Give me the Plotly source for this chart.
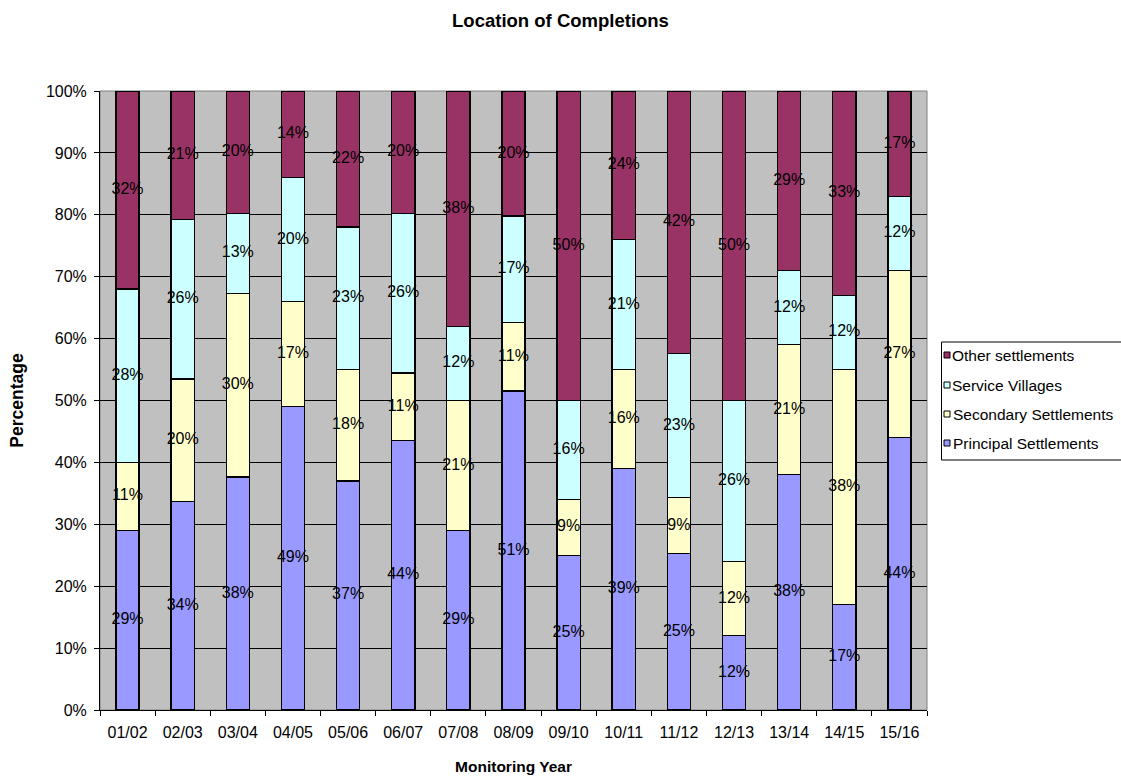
import plotly.graph_objects as go

years = ["01/02", "02/03", "03/04", "04/05", "05/06", "06/07", "07/08", "08/09",
         "09/10", "10/11", "11/12", "12/13", "13/14", "14/15", "15/16"]

principal = [29, 34, 38, 49, 37, 44, 29, 51, 25, 39, 25, 12, 38, 17, 44]
secondary = [11, 20, 30, 17, 18, 11, 21, 11, 9, 16, 9, 12, 21, 38, 27]
service = [28, 26, 13, 20, 23, 26, 12, 17, 16, 21, 23, 26, 12, 12, 12]
other = [32, 21, 20, 14, 22, 20, 38, 20, 50, 24, 42, 50, 29, 33, 17]

series = [
    ("Principal Settlements", principal, "#9999FF"),
    ("Secondary Settlements", secondary, "#FFFFCC"),
    ("Service Villages", service, "#CCFFFF"),
    ("Other settlements", other, "#993366"),
]

FONT = "Arial, 'Liberation Sans', sans-serif"
W, H = 1121, 778
ML, MR, MT, MB = 100, 194, 91, 68
PW, PH = W - ML - MR, H - MT - MB


def px_x(x):
    return (x - ML) / PW


def px_y(y):
    return (H - MB - y) / PH


fig = go.Figure()

totals = [sum(v) for v in zip(principal, secondary, service, other)]
base = [0.0] * len(years)
label_x, label_y, label_t = [], [], []
for name, vals, color in series:
    fig.add_trace(go.Bar(
        x=years, y=vals, name=name, showlegend=False,
        marker=dict(color=color, line=dict(color="black", width=1.4)),
    ))
    # centre of each stacked segment (in percent of the bar total)
    for i, v in enumerate(vals):
        share = v / totals[i] * 100
        label_x.append(years[i])
        label_y.append(base[i] + share / 2)
        label_t.append(f"{v}%")
        base[i] += share

fig.add_trace(go.Scatter(
    x=label_x, y=label_y, text=label_t, mode="text",
    textfont=dict(family=FONT, size=16, color="black"),
    showlegend=False, hoverinfo="skip", cliponaxis=False,
))

# legend box at the right, top entry = last series
shapes = [
    dict(type="rect", xref="paper", yref="paper", x0=0, x1=1, y0=0, y1=1,
         line=dict(color="#808080", width=1), layer="below"),
    dict(type="rect", xref="paper", yref="paper",
         x0=px_x(941.5), x1=px_x(1130), y0=px_y(460), y1=px_y(342),
         line=dict(color="black", width=1), fillcolor="white", layer="above"),
]
annotations = []
row_y = [355, 385, 414, 443]
for (name, _, color), ry in zip(reversed(series), row_y):
    shapes.append(dict(type="rect", xref="paper", yref="paper",
                       x0=px_x(944), x1=px_x(950), y0=px_y(ry + 3), y1=px_y(ry - 3),
                       line=dict(color="black", width=1), fillcolor=color,
                       layer="above"))
    annotations.append(dict(text=name, xref="paper", yref="paper",
                            x=px_x(950.5), y=px_y(ry), xanchor="left",
                            yanchor="middle", showarrow=False,
                            font=dict(family=FONT, size=15.5, color="black")))

fig.update_layout(
    barmode="stack",
    barnorm="percent",
    bargap=0.58,
    width=W, height=H,
    margin=dict(l=ML, r=MR, t=MT, b=MB, autoexpand=False),
    paper_bgcolor="white",
    plot_bgcolor="#C0C0C0",
    font=dict(family=FONT, size=16, color="black"),
    title=dict(text="<b>Location of Completions</b>", x=0.5, xref="container",
               y=0.974, yref="container", yanchor="middle",
               font=dict(family=FONT, size=18.5, color="black")),
    showlegend=False,
    shapes=shapes,
    annotations=annotations,
)

fig.update_xaxes(
    range=[-0.5, len(years) - 0.5],
    showgrid=False, showline=True, linecolor="black", linewidth=1,
    ticks="outside", tickson="boundaries", ticklen=5, tickcolor="black",
    ticklabelstandoff=8,
    tickfont=dict(family=FONT, size=16, color="black"),
    title=dict(text="<b>Monitoring Year</b>", standoff=20,
               font=dict(family=FONT, size=15.5, color="black")),
)
fig.update_yaxes(
    range=[0, 100], dtick=10, ticksuffix="%",
    showgrid=True, gridcolor="black", gridwidth=1,
    showline=True, linecolor="black", linewidth=1,
    ticks="outside", ticklen=5, tickcolor="black",
    ticklabelstandoff=4,
    tickfont=dict(family=FONT, size=16, color="black"),
    zeroline=False,
    title=dict(text="<b>Percentage</b>", standoff=17,
               font=dict(family=FONT, size=17.5, color="black")),
)

fig.write_html("out.html")
